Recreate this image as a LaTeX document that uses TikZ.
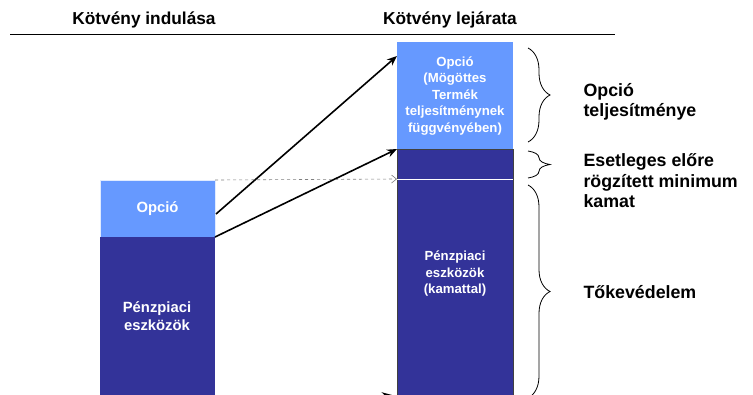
\documentclass[tikz,border=0pt]{standalone}
\usepackage{fontspec}
\setmainfont{Liberation Sans}
\usetikzlibrary{decorations.pathreplacing,arrows.meta,calc}
\definecolor{lightb}{HTML}{6699FF}
\definecolor{darkb}{HTML}{333399}
\begin{document}
\begin{tikzpicture}[x=1pt,y=-1pt,
 boxtxt/.style={text=white,font=\bfseries\fontsize{13.2}{16.5}\selectfont,align=center},
 lboxtxt/.style={text=white,font=\bfseries\fontsize{14.8}{17.5}\selectfont,align=center},
 lbl/.style={anchor=west,font=\bfseries\fontsize{17.8}{20.5}\selectfont,align=left},
 ttl/.style={font=\bfseries\fontsize{17.3}{19}\selectfont},
 blk/.style={anchor=north west,inner sep=0pt,outer sep=0pt},
 arr/.style={-{Stealth[length=10pt,width=8pt]},line width=1.6pt},
 darr/.style={-{Straight Barb[length=5pt,width=8pt]},dashed,gray,line width=0.6pt},
 brc/.style={decorate,decoration={brace,amplitude=22pt},line width=0.8pt}]
\useasboundingbox (0,0) rectangle (753,394);
\fill[white] (0,0) rectangle (753,394);
\begin{scope}
\clip (0,0) rectangle (753,394);
% titles
\node[ttl] (t1) at (144,20) {Kötvény indulása};
\node[ttl] (t2) at (450,20) {Kötvény lejárata};
\coordinate (la) at (10,34);
\coordinate (lb) at (615,34);
\draw[line width=1pt] (la) -- (lb);
% left column
\node[blk,fill=lightb,draw=white!80!lightb,line width=0.6pt,minimum width=115pt,minimum height=57pt] (lo) at (100,180) {};
\node[blk,fill=darkb,minimum width=115pt,minimum height=160pt] (lp) at (100,237) {};
\node[lboxtxt] at (lo.center) {Opció};
\node[lboxtxt] at (157,316) {Pénzpiaci\\eszközök};
% right column
\node[blk,fill=lightb,minimum width=116pt,minimum height=107pt] (ro) at (397,42) {};
\node[blk,fill=darkb,draw=black!75,line width=0.6pt,minimum width=116pt,minimum height=30pt] (rm) at (397,149) {};
\node[blk,fill=darkb,draw=black!75,line width=0.6pt,minimum width=116pt,minimum height=220pt] (rp) at (397,179) {};
\draw[white,line width=0.8pt] (rp.north west) -- (rp.north east);
\node[boxtxt] at (455,96) {Opció\\(Mögöttes\\Termék\\teljesítménynek\\függvényében)};
\node[boxtxt] at (455,274) {Pénzpiaci\\eszközök\\(kamattal)};
% arrows
\draw[arr] ($(lo.south east)+(1,-23)$) -- ($(ro.north west)+(0,14)$);
\draw[arr] (lo.south east) -- (ro.south west);
\draw[darr] (lo.north east) -- (rp.north west);
\draw[arr] ($(lp.south east)+(0,20)$) -- ($(rp.south west)+(-5,-4)$);
% braces
\draw[brc] (528,48) -- (528,142);
\draw[brc] (528,151) -- (528,178);
\draw[brc] (528,185) -- (528,398);
\end{scope}
% labels
\node[lbl] (l1) at (580,102) {Opció\\teljesítménye};
\node[lbl] (l2) at (580,181) {Esetleges előre\\rögzített minimum\\kamat};
\node[lbl] (l3) at (580,292) {Tőkevédelem};
\end{tikzpicture}
\end{document}
